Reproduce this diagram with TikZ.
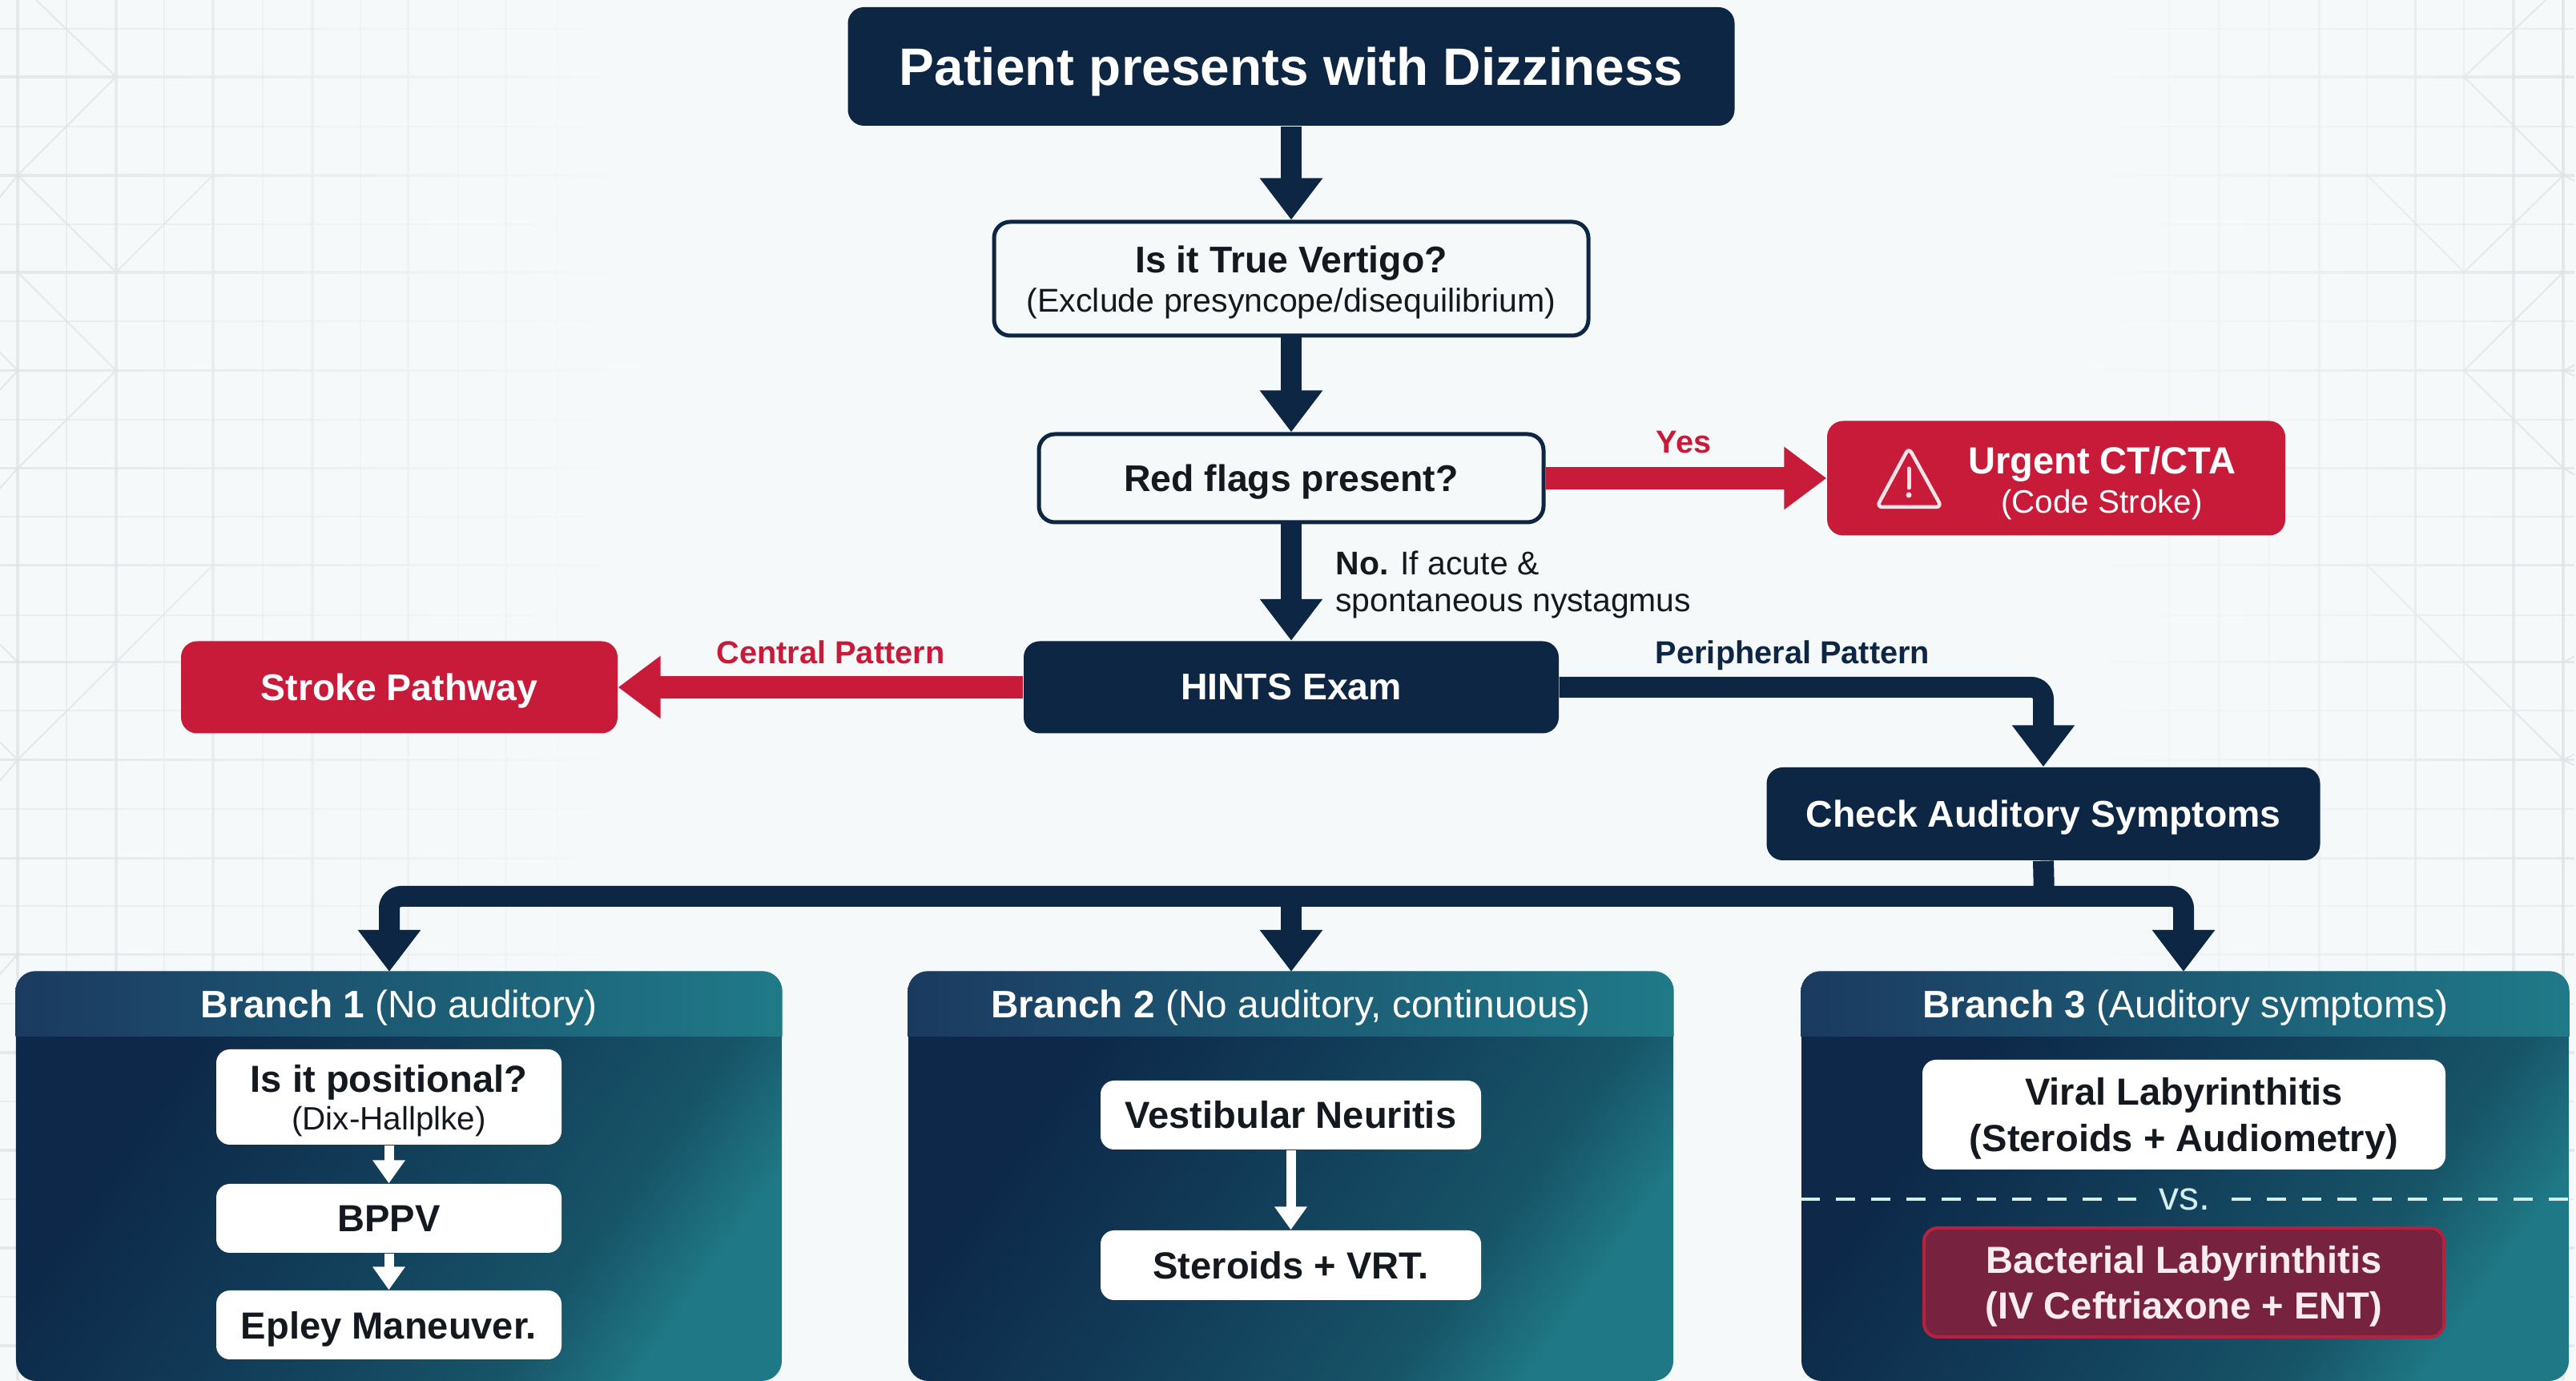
\documentclass[tikz,border=0pt]{standalone}
\usepackage{fontspec}
\setmainfont{Liberation Sans}
\usetikzlibrary{arrows.meta}
\usetikzlibrary{fadings}

\definecolor{pagebg}{HTML}{F5F9FA}
\definecolor{gridline}{HTML}{DDE3E7}
\definecolor{navy}{HTML}{0D2644}
\definecolor{alarm}{HTML}{C81B3A}
\definecolor{inkblack}{HTML}{14181F}
\definecolor{wine}{HTML}{772340}
\definecolor{winerim}{HTML}{B5223F}
\definecolor{paledash}{HTML}{D5EEF0}
\definecolor{panelstart}{HTML}{0D2848}
\definecolor{panelmid}{HTML}{113A57}
\definecolor{panelnext}{HTML}{175468}
\definecolor{panelend}{HTML}{1F7885}
\definecolor{headstart}{HTML}{1B3A60}
\definecolor{headend}{HTML}{1F7A88}

\pgfdeclarehorizontalshading{panelfill}{100bp}{
  color(0bp)=(panelstart); color(30bp)=(panelstart); color(46bp)=(panelmid);
  color(66bp)=(panelnext); color(75bp)=(panelend); color(100bp)=(panelend)}

\tikzfading[name=gridfadeleft, left color=transparent!100, right color=transparent!0]
\tikzfading[name=gridfaderight, left color=transparent!0, right color=transparent!100]

\tikzset{
  darkbox/.style={rectangle,rounded corners=.2cm,fill=navy,text=white,font=\fontsize{13.2}{16}\selectfont\bfseries},
  outlinebox/.style={rectangle,rounded corners=.2cm,draw=navy,line width=.05cm,fill=pagebg,text=inkblack,align=center},
  alarmbox/.style={rectangle,rounded corners=.2cm,fill=alarm,text=white,font=\fontsize{13.2}{16}\selectfont\bfseries},
  panelbox/.style={rectangle,rounded corners=.25cm,shade,shading=panelfill,shading angle=-35,minimum height=5.11cm},
  innerbox/.style={rectangle,rounded corners=.17cm,fill=white,text=inkblack,align=center,font=\fontsize{13.4}{16.4}\selectfont\bfseries},
  panelhead/.style={text=white,font=\fontsize{13.6}{16}\selectfont},
  headband/.style={left color=headstart,right color=headend},
  edgelabel/.style={font=\fontsize{11.3}{13}\selectfont\bfseries,text depth=0pt},
  flowline/.style={draw=navy,line width=.26cm,arrows = -{Triangle[length=.52cm,width=.75cm]}},
  barline/.style={draw=navy,line width=.26cm},
  redline/.style={draw=alarm,line width=.28cm,arrows = -{Triangle[length=.53cm,width=.75cm]}},
  whiteline/.style={draw=white,line width=.12cm,arrows = -{Triangle[length=.29cm,width=.39cm]}},
  dashline/.style={draw=paledash,line width=.045cm,dash pattern=on .24cm off .2cm},
  gridthin/.style={draw=gridline,line width=.02cm,opacity=.5},
  gridthick/.style={draw=gridline,line width=.035cm,opacity=.75},
  griddiag/.style={draw=gridline,line width=.02cm,opacity=.8}
}

\begin{document}
\begin{tikzpicture}

  \useasboundingbox (0,0) rectangle (32.16,17.24);
  \fill[pagebg] (0,0) rectangle (32.16,17.24);

  % background grid, typed in image pixels
  \begin{scope}[x=.01cm,y=-.01cm,yshift=17.24cm]
    \foreach \gx in {83,205,328,450,572,695,2710,2835,2957,3078}
      \draw[gridthin] (\gx,0) -- (\gx,1724);
    \foreach \gx in {22,145,266,390,510,632,2772,2897,3017,3140,3202}
      \draw[gridthick] (\gx,0) -- (\gx,1724);
    \foreach \gy in {36,158,280,401,524,645,768,888,1011,1132,1254,1376,1498,1620}
      \draw[gridthin] (0,\gy) -- (3216,\gy);
    \foreach \gy in {96,219,340,463,585,706,827,949,1072,1192,1315,1437,1559,1681}
      \draw[gridthick] (0,\gy) -- (3216,\gy);

    \draw[griddiag] (45,0) -- (145,96) -- (22,219) -- (0,246);
    \draw[griddiag] (22,219) -- (145,340) -- (266,219);
    \draw[griddiag] (0,440) -- (22,463) -- (0,487);
    \draw[griddiag] (22,340) -- (145,463) -- (22,585) -- (0,610);
    \draw[griddiag] (266,706) -- (145,827) -- (22,949) -- (0,975);
    \draw[griddiag] (0,805) -- (22,827);
    \draw[griddiag] (0,927) -- (22,949);
    \draw[griddiag] (22,1192) -- (0,1217);

    \draw[griddiag] (3180,0) -- (3078,96) -- (3202,219) -- (3216,226);
    \draw[griddiag] (3202,219) -- (3078,340) -- (2957,219);
    \draw[griddiag] (3216,456) -- (3202,463) -- (3216,470);
    \draw[griddiag] (3202,340) -- (3078,463) -- (3202,585) -- (3216,593);
    \draw[griddiag] (2957,706) -- (3078,827) -- (3202,949) -- (3216,956);
    \draw[griddiag] (3216,820) -- (3202,827);
    \draw[griddiag] (3216,942) -- (3202,949);
  \end{scope}

  \fill[pagebg,path fading=gridfadeleft] (0,0) rectangle (8,17.24);
  \fill[pagebg] (8,0) rectangle (26,17.24);
  \fill[pagebg,path fading=gridfaderight] (26,0) rectangle (32.16,17.24);

  % upper flow
  \path   (16.12,16.41) node (title) [darkbox,minimum width=11.07cm,minimum height=1.48cm,text depth=0pt,font=\fontsize{18.7}{22}\selectfont\bfseries] {Patient presents with Dizziness}
          (16.12,13.76) node (vertigo) [outlinebox,minimum width=7.42cm,minimum height=1.42cm,text depth=0pt] {{\fontsize{13.2}{17}\selectfont\bfseries Is it True Vertigo?}\\[2pt]{\fontsize{11.7}{14}\selectfont (Exclude presyncope/disequilibrium)}}
          (16.12,11.27) node (redflags) [outlinebox,minimum width=6.30cm,minimum height=1.10cm,text depth=0pt,font=\fontsize{13.2}{16}\selectfont\bfseries] {Red flags present?}
          (25.67,11.27) node (urgent) [alarmbox,minimum width=5.72cm,minimum height=1.43cm] {}
          (16.12,8.66) node (hints) [darkbox,minimum width=6.68cm,minimum height=1.15cm] {HINTS Exam}
          (4.985,8.66) node (stroke) [alarmbox,minimum width=5.45cm,minimum height=1.15cm,text depth=0pt] {Stroke Pathway}
          (25.51,7.08) node (check) [darkbox,minimum width=6.91cm,minimum height=1.16cm,text depth=0pt] {Check Auditory Symptoms};

  \node (urgenttext) at (26.24,11.21) [text=white,align=center] {{\fontsize{13.4}{17}\selectfont\bfseries Urgent CT/CTA}\\[2pt]{\fontsize{11.5}{13}\selectfont (Code Stroke)}};

  % warning sign
  \draw[white!88!alarm,line width=.045cm,line join=round,rounded corners=.07cm] (23.83,11.65) -- (24.24,10.91) -- (23.43,10.91) -- cycle;
  \draw[white!88!alarm,line width=.05cm,line cap=round] (23.83,11.39) -- (23.83,11.15);
  \fill[white!88!alarm] (23.83,11.06) circle (.035);

  % labels on the connectors
  \node (yeslabel) at (21.02,11.72) [edgelabel,text=alarm] {Yes};
  \node (nolabel) at (16.55,9.94) [anchor=west,align=left,text=inkblack,font=\fontsize{11.65}{13.2}\selectfont] {\textbf{No.} If acute \&\\spontaneous nystagmus};
  \node (centrallabel) at (10.37,9.10) [edgelabel,text=alarm] {Central Pattern};
  \node (peripherallabel) at (22.38,9.10) [edgelabel,text=navy] {Peripheral Pattern};

  % branch panels
  \path   (4.98,2.555) node (panel1) [panelbox,minimum width=9.56cm] {}
          (16.115,2.555) node (panel2) [panelbox,minimum width=9.55cm] {}
          (27.28,2.555) node (panel3) [panelbox,minimum width=9.58cm] {};

  \coordinate (entry1) at (4.86,5.11);
  \coordinate (entry2) at (16.12,5.11);
  \coordinate (entry3) at (27.26,5.11);
  \coordinate (bus) at (25.52,6.05);

  \shade[headband] (panel1.west |- 0,4.30) [rounded corners=.25cm] -- (panel1.north west) -- (panel1.north east) [sharp corners] -- (panel1.east |- 0,4.30) -- cycle;
  \shade[headband] (panel2.west |- 0,4.30) [rounded corners=.25cm] -- (panel2.north west) -- (panel2.north east) [sharp corners] -- (panel2.east |- 0,4.30) -- cycle;
  \shade[headband] (panel3.west |- 0,4.30) [rounded corners=.25cm] -- (panel3.north west) -- (panel3.north east) [sharp corners] -- (panel3.east |- 0,4.30) -- cycle;

  \node (head1) at (4.98,4.66) [panelhead] {\textbf{Branch 1} (No auditory)};
  \node (head2) at (16.115,4.66) [panelhead] {\textbf{Branch 2} (No auditory, continuous)};
  \node (head3) at (27.28,4.66) [panelhead] {\textbf{Branch 3} (Auditory symptoms)};

  \path   (4.855,3.545) node (positional) [innerbox,minimum width=4.31cm,minimum height=1.19cm,text depth=0pt] {Is it positional?\\[-3pt]{\fontsize{11.5}{13}\selectfont\mdseries (Dix-Hallplke)}}
          (4.855,2.03) node (bppv) [innerbox,minimum width=4.31cm,minimum height=.86cm] {BPPV}
          (4.855,.70) node (epley) [innerbox,minimum width=4.31cm,minimum height=.86cm,text depth=0pt] {Epley Maneuver.}

          (16.115,3.32) node (neuritis) [innerbox,minimum width=4.75cm,minimum height=.86cm] {Vestibular Neuritis}
          (16.115,1.445) node (steroids) [innerbox,minimum width=4.75cm,minimum height=.87cm] {Steroids + VRT.}

          (27.265,3.325) node (viral) [innerbox,minimum width=6.53cm,minimum height=1.37cm,text depth=0pt] {Viral Labyrinthitis\\(Steroids + Audiometry)}
          (27.265,1.23) node (bacterial) [innerbox,fill=wine,draw=winerim,line width=.04cm,text=white!92!alarm,minimum width=6.49cm,minimum height=1.36cm,text depth=0pt] {Bacterial Labyrinthitis\\(IV Ceftriaxone + ENT)}
          (27.27,2.27) node (versus) [text=paledash,font=\fontsize{14.2}{16}\selectfont] {vs.};

  \draw[dashline] (panel3.west |- versus) -- (26.67,2.27);
  \draw[dashline] (27.86,2.27) -- (panel3.east |- versus);

  % connectors
  \draw[flowline] (title) -- (vertigo);
  \draw[flowline] (vertigo) -- (redflags);
  \draw[flowline] (redflags) -- (hints);
  \draw[redline] (redflags) -- (urgent);
  \draw[redline] (hints) -- (stroke);
  \draw[flowline,rounded corners=.15cm] (hints.east) -| (check.north);

  \draw[barline] (check.south) -- (bus);
  \draw[flowline,rounded corners=.15cm] (bus) -| (entry1);
  \draw[flowline,rounded corners=.15cm] (bus) -| (entry3);
  \draw[flowline] (entry2 |- bus) -- (entry2);

  \draw[whiteline] (positional) -- (bppv);
  \draw[whiteline] (bppv) -- (epley);
  \draw[whiteline] (neuritis) -- (steroids);

\end{tikzpicture}
\end{document}
